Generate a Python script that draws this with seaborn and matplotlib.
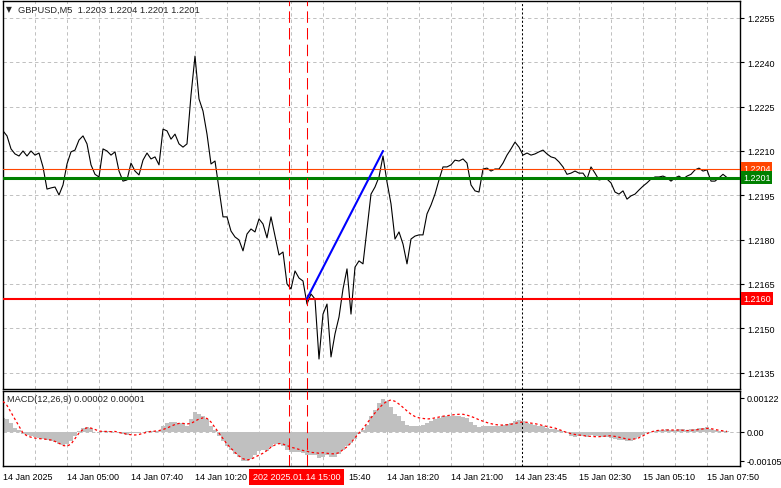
import numpy as np
import pandas as pd
import matplotlib
matplotlib.use('Agg')
import matplotlib.pyplot as plt
import matplotlib.transforms as mtransforms
import seaborn as sns

# GBPUSD M5 closes (one point every 2 bars)
close = [
    1.22168, 1.22151, 1.22107, 1.22090, 1.22083, 1.22100, 1.22083, 1.22100, 1.22086, 1.22093,
    1.22046, 1.21971, 1.21975, 1.21978, 1.21951, 1.21985, 1.22056, 1.22097, 1.22103, 1.22137,
    1.22151, 1.22124, 1.22053, 1.22021, 1.22012, 1.22107, 1.22100, 1.22086, 1.22097, 1.22032,
    1.21998, 1.22002, 1.22059, 1.22032, 1.22019, 1.22069, 1.22093, 1.22073, 1.22080, 1.22053,
    1.22174, 1.22168, 1.22140, 1.22157, 1.22124, 1.22113, 1.22124, 1.22289, 1.22421, 1.22276,
    1.22235, 1.22157, 1.22056, 1.22066, 1.21971, 1.21877, 1.21877, 1.21829, 1.21809, 1.21799,
    1.21762, 1.21819, 1.21836, 1.21826, 1.21870, 1.21853, 1.21806, 1.21877, 1.21812, 1.21748,
    1.21758, 1.21650, 1.21633, 1.21694, 1.21670, 1.21660, 1.21582, 1.21616, 1.21599, 1.21396,
    1.21548, 1.21582, 1.21403, 1.21481, 1.21538, 1.21633, 1.21701, 1.21548, 1.21707, 1.21728,
    1.21718, 1.21836, 1.21954, 1.21978, 1.22012, 1.22083, 1.21995, 1.21921, 1.21802, 1.21826,
    1.21785, 1.21718, 1.21802, 1.21812, 1.21816, 1.21816, 1.21887, 1.21917, 1.21954, 1.22002,
    1.22046, 1.22046, 1.22053, 1.22069, 1.22066, 1.22073, 1.22059, 1.21985, 1.21965, 1.21961,
    1.22039, 1.22042, 1.22032, 1.22039, 1.22039, 1.22059, 1.22086, 1.22107, 1.22130, 1.22113,
    1.22086, 1.22093, 1.22086, 1.22090, 1.22097, 1.22103, 1.22090, 1.22080, 1.22076, 1.22063,
    1.22046, 1.22021, 1.22025, 1.22032, 1.22025, 1.22025, 1.22005, 1.22046, 1.22025, 1.22002,
    1.22005, 1.22005, 1.21992, 1.21961, 1.21954, 1.21965, 1.21937, 1.21948, 1.21954, 1.21968,
    1.21981, 1.21992, 1.22005, 1.22012, 1.22012, 1.22015, 1.22009, 1.21998, 1.22009, 1.22015,
    1.22005, 1.22015, 1.22021, 1.22036, 1.22042, 1.22032, 1.22036, 1.21998, 1.21998, 1.22009,
    1.22021, 1.22010]

# MACD(12,26,9) histogram and signal, in units of 1e-4
macd_hist_e4 = [
    5.0, 4.5, 3.0, 1.5, 0.5, -0.8, -1.3, -1.7, -2.0, -2.3,
    -2.7, -3.0, -3.2, -3.6, -4.3, -4.8, -4.5, -3.2, -1.5, 0.3,
    1.3, 1.8, 1.2, -0.2, -0.5, 0.2, 0.1, 0.1, 0.0, -0.5,
    -1.0, -1.2, -0.6, -0.4, -0.3, -0.1, 0.2, 0.3, 0.2, 0.3,
    2.0, 3.0, 3.5, 3.5, 3.3, 3.0, 2.2, 4.5, 7.3, 6.5,
    5.5, 4.5, 2.0, 0.5, -1.5, -3.5, -5.0, -6.5, -8.0, -9.3,
    -10.5, -10.5, -10.0, -8.5, -7.0, -6.5, -7.0, -5.5, -4.5, -4.5,
    -5.0, -6.5, -7.5, -7.5, -7.5, -7.8, -8.5, -8.5, -8.5, -9.5,
    -9.0, -8.5, -9.0, -9.0, -8.0, -6.5, -5.0, -4.0, -2.5, -1.0,
    0.5, 2.5, 5.5, 8.0, 10.5, 12.0, 11.0, 9.0, 6.5, 5.5,
    4.0, 2.5, 2.0, 2.0, 2.0, 2.5, 3.0, 3.8, 4.5, 5.0,
    5.5, 5.5, 5.7, 5.8, 5.5, 5.2, 4.8, 3.5, 2.5, 1.8,
    2.0, 2.0, 2.0, 2.0, 2.2, 2.4, 2.8, 3.3, 4.0, 4.2,
    3.8, 3.2, 2.8, 2.5, 2.2, 2.0, 1.5, 1.1, 0.8, 0.5,
    0.2, -0.5, -1.5, -1.8, -1.6, -1.5, -1.8, -1.3, -1.4, -1.7,
    -1.9, -2.0, -2.2, -2.6, -3.0, -3.1, -3.5, -3.2, -2.8, -2.0,
    -1.2, -0.6, -0.2, 0.2, 0.5, 0.7, 0.8, 0.7, 0.7, 0.8,
    0.8, 0.7, 0.8, 1.1, 1.3, 1.4, 1.6, 1.0, 0.6, 0.4,
    0.3, 0.2]

macd_signal_e4 = [
    11.0, 9.5, 7.0, 4.5, 2.0, -0.5, -1.5, -2.0, -2.3, -2.5,
    -2.6, -2.8, -3.0, -3.5, -4.2, -5.0, -5.2, -4.5, -2.5, -0.5,
    0.8, 1.4, 1.3, 0.8, 0.2, 0.1, 0.1, 0.0, 0.1, -0.3,
    -0.6, -0.9, -1.1, -1.2, -1.0, -0.6, -0.2, 0.1, 0.2, 0.4,
    0.8, 1.3, 2.0, 2.6, 3.0, 3.0, 2.8, 3.0, 3.8, 4.6,
    5.0, 4.8, 3.5, 1.5, -0.5, -2.5, -4.5, -6.0, -7.5, -8.8,
    -9.8, -10.2, -10.0, -9.2, -8.5, -7.8, -6.8, -5.6, -4.8, -4.3,
    -4.5, -5.0, -5.6, -6.0, -6.4, -6.8, -7.1, -7.5, -7.6, -7.8,
    -7.6, -7.8, -8.0, -8.0, -7.6, -6.5, -5.5, -4.0, -2.2, -0.5,
    1.2, 3.0, 5.0, 6.8, 8.5, 10.0, 11.0, 11.5, 11.0, 10.0,
    8.8, 7.5, 6.3, 5.5, 5.0, 4.8, 4.6, 4.7, 5.0, 5.3,
    5.6, 5.8, 6.0, 6.2, 6.3, 6.3, 6.0, 5.5, 5.0, 4.3,
    3.8, 3.3, 2.9, 2.6, 2.4, 2.4, 2.5, 2.7, 3.0, 3.3,
    3.5, 3.4, 3.1, 2.9, 2.6, 2.2, 1.9, 1.6, 1.3, 0.8,
    0.2, -0.3, -0.7, -1.0, -1.2, -1.4, -1.6, -1.7, -1.8, -1.8,
    -1.7, -1.5, -1.5, -1.7, -2.0, -2.3, -2.7, -2.8, -2.6, -2.2,
    -1.5, -0.7, -0.1, 0.3, 0.5, 0.6, 0.6, 0.6, 0.6, 0.6,
    0.5, 0.4, 0.5, 0.6, 0.8, 1.0, 1.2, 1.1, 0.8, 0.5,
    0.3, 0.1]

price_ticks = [1.2255, 1.2240, 1.2225, 1.2210, 1.2195, 1.2180, 1.2165, 1.2150, 1.2135]
# labels 4 and 5 sit under the red cursor box in the reference; only "15:40" peeks out
time_labels = ['14 Jan 2025', '14 Jan 05:00', '14 Jan 07:40', '14 Jan 10:20', '',
               '', '14 Jan 18:20', '14 Jan 21:00', '14 Jan 23:45',
               '15 Jan 02:30', '15 Jan 05:10', '15 Jan 07:50']
level_values = [1.2204, 1.2201, 1.2160]
level_labels = ['1.2204', '1.2201', '1.2160']
level_colors = ['#ff4500', '#008000', '#ff0000']
level_widths = [0.8, 2.2, 1.5]
trend_bars = [76, 95]
trend_prices = [1.2160, 1.2210]
session_bars = [71.6, 76.1]   # red dashed separators
now_bar = 129.7               # dotted line
macd_ticks = [0.00122, 0.0, -0.00105]
macd_tick_labels = ['0.00122', '0.00', '-0.00105']

df = pd.DataFrame({'bar': np.arange(len(close)), 'close': close,
                   'hist': np.array(macd_hist_e4) * 1e-4,
                   'signal': np.array(macd_signal_e4) * 1e-4})

sns.set_style('white')
plt.rcParams['font.family'] = ['Liberation Sans', 'DejaVu Sans']
plt.rcParams['font.size'] = 6.5

W, H = 781, 489
fig = plt.figure(figsize=(W / 100, H / 100), dpi=100)
ax = fig.add_axes([3 / W, 1 - 390 / H, 737 / W, 388 / H])
ax2 = fig.add_axes([3 / W, 1 - 467 / H, 737 / W, 75 / H])

grid_kw = dict(color='#c0c0c0', lw=0.7, linestyle=(0, (3.5, 3)))
xmax = 184.25

for a in (ax, ax2):
    for s in a.spines.values():
        s.set_color('black')
        s.set_linewidth(1.0)
    a.set_xlim(0, xmax)
    a.set_xticks(np.arange(0, 177, 16))
    a.set_xticks(np.arange(8, 184, 16), minor=True)
    a.grid(True, which='both', axis='x', **grid_kw)
    a.yaxis.tick_right()
    a.tick_params(axis='y', which='major', length=3, width=0.8, pad=2, labelsize=6.5, colors='black')
    a.tick_params(axis='x', which='minor', length=0)

# main price panel
sns.lineplot(data=df, x='bar', y='close', color='black', lw=0.8, ax=ax, zorder=3)
ax.set_ylim(1.212945, 1.226075)
ax.set_yticks(price_ticks)
ax.set_yticklabels([f'{v:.4f}' for v in price_ticks])
ax.grid(True, axis='y', **grid_kw)
ax.tick_params(axis='x', which='major', length=0, labelbottom=False)
ax.set_xlabel('')
ax.set_ylabel('')

tr = mtransforms.blended_transform_factory(ax.transAxes, ax.transData)
for v, lab, c, w in zip(level_values, level_labels, level_colors, level_widths):
    ax.axhline(v, color=c, lw=w, zorder=4)
    ax.text(1.004, v, lab, transform=tr, ha='left', va='center', color='white', fontsize=6.5,
            clip_on=False, zorder=6,
            bbox=dict(boxstyle='square,pad=0.22', fc=c, ec='none'))

sns.lineplot(x=trend_bars, y=trend_prices, color='#0000ff', lw=1.5, ax=ax, zorder=5)

for a in (ax, ax2):
    for b in session_bars:
        a.axvline(b, color='#ff0000', lw=0.75, linestyle=(0, (11, 5)), zorder=4)
    a.axvline(now_bar, color='black', lw=0.75, linestyle=(0, (2, 2)), zorder=4)

# MACD panel
sns.barplot(data=df, x='bar', y='hist', native_scale=True, color='#c0c0c0', width=1.0,
            errorbar=None, linewidth=0, saturation=1, ax=ax2, zorder=2)
sns.lineplot(data=df, x='bar', y='signal', color='#ff0000', lw=0.9, linestyle=(0, (2, 2)),
             ax=ax2, zorder=3)
ax2.axhline(0, color='#c0c0c0', lw=0.7, linestyle=(0, (3.5, 3)), zorder=1)
ax2.set_xlim(0, xmax)
ax2.set_ylim(-0.001242, 0.001473)
ax2.set_yticks(macd_ticks)
ax2.set_yticklabels(macd_tick_labels)
ax2.set_xticks(np.arange(0, 177, 16))
ax2.set_xticklabels(time_labels)
ax2.tick_params(axis='x', which='major', length=3, width=0.8, pad=1.5, labelsize=6.5, colors='black')
for lbl in ax2.get_xticklabels():
    lbl.set_ha('left')
ax2.set_xlabel('')
ax2.set_ylabel('')

# header texts
fig.text(6 / W, 1 - 10 / H, '\u25bc', fontsize=5.5, va='center', ha='left',
         family=['DejaVu Sans'])
fig.text(18 / W, 1 - 10 / H, 'GBPUSD,M5  1.2203 1.2204 1.2201 1.2201', fontsize=6.7,
         va='center', ha='left')
fig.text(7 / W, 1 - 400 / H, 'MACD(12,26,9) 0.00002 0.00001', fontsize=6.7,
         va='center', ha='left')

# cursor time box on the time axis, with the uncovered tail of the 15:40 label
fig.text(253 / W, 1 - 478 / H, '202 2025.01.14 15:00', fontsize=6.5, color='white',
         va='center', ha='left',
         bbox=dict(boxstyle='square,pad=0.4', fc='#ff0000', ec='none'))
fig.text(348 / W, 1 - 478 / H, '15:40', fontsize=6.5, color='black', va='center', ha='left')

fig.savefig('out.png', dpi=100)
